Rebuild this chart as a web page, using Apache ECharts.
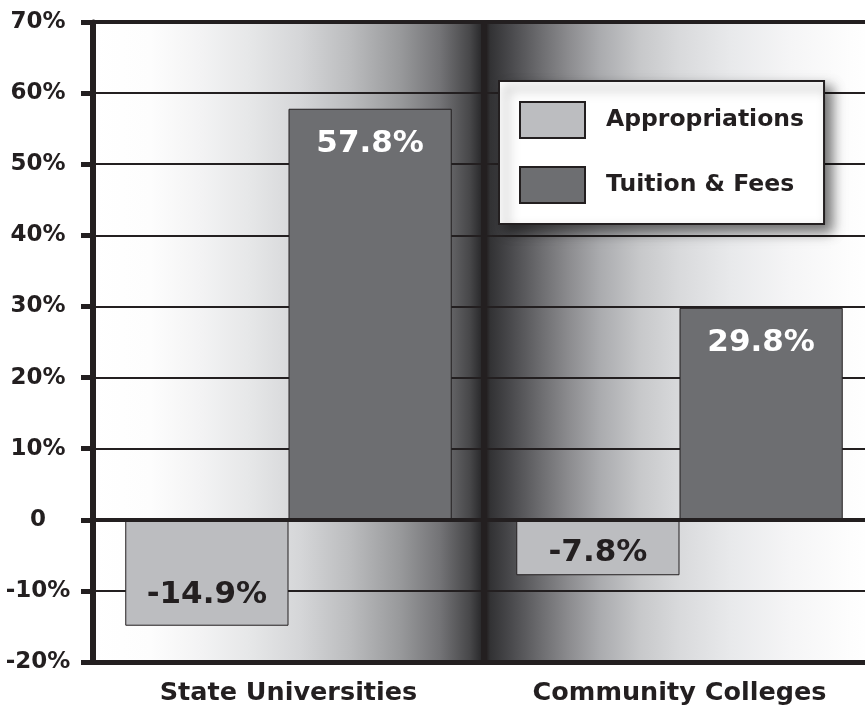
<!DOCTYPE html>
<html>
<head>
<meta charset="utf-8">
<script src="https://cdn.jsdelivr.net/npm/echarts@6/dist/echarts.min.js"></script>
<style>
  html, body { margin: 0; padding: 0; background: #ffffff; overflow: hidden; }
  #chart { width: 900px; height: 705px; }
</style>
</head>
<body>
<div id="chart"></div>
<script>
// Percent change by sector
const categories = ['State Universities', 'Community Colleges'];
const appropriations = [-14.9, -7.8];
const tuitionFees = [57.8, 29.8];
const seriesNames = ['Appropriations', 'Tuition & Fees'];
const yTicks = { min: -20, max: 70, step: 10 };

const INK = '#231f20';
const FONT = '"DejaVu Sans", Verdana, sans-serif';

// Shaded backdrop: white at the edges, darkening into the divider between the two groups
const backdrop = {
  type: 'linear', x: 0, y: 0, x2: 1, y2: 0,
  colorStops: [
    { offset: 0.000, color: '#ffffff' },
    { offset: 0.073, color: '#fdfdfd' },
    { offset: 0.137, color: '#f3f3f4' },
    { offset: 0.201, color: '#e6e7e8' },
    { offset: 0.265, color: '#d5d6d8' },
    { offset: 0.329, color: '#bbbcbe' },
    { offset: 0.393, color: '#98999b' },
    { offset: 0.444, color: '#737376' },
    { offset: 0.482, color: '#474749' },
    { offset: 0.495, color: '#2d2d2f' },
    { offset: 0.503, color: '#231f20' },
    { offset: 0.508, color: '#323234' },
    { offset: 0.533, color: '#48484b' },
    { offset: 0.572, color: '#6c6c6f' },
    { offset: 0.610, color: '#8d8d90' },
    { offset: 0.648, color: '#aaabae' },
    { offset: 0.699, color: '#c7c8ca' },
    { offset: 0.751, color: '#d9dadc' },
    { offset: 0.815, color: '#e8e9eb' },
    { offset: 0.891, color: '#f5f5f6' },
    { offset: 0.968, color: '#fdfdfd' },
    { offset: 1.000, color: '#ffffff' }
  ]
};

const valueLabel = (color) => ({
  show: true,
  color: color,
  fontFamily: FONT,
  fontWeight: 'bold',
  fontSize: 31,
  formatter: (p) => p.value.toFixed(1) + '%'
});

const chart = echarts.init(document.getElementById('chart'), null, { renderer: 'canvas' });

chart.setOption({
  animation: false,
  backgroundColor: '#ffffff',
  grid: {
    left: 93, top: 22, width: 782, height: 640,
    show: true,
    backgroundColor: backdrop,
    borderWidth: 0,
    containLabel: false,
    outerBoundsMode: 'none'
  },
  legend: {
    orient: 'vertical',
    left: 499, top: 81,
    padding: [20, 20, 20, 20],
    itemWidth: 65, itemHeight: 36, itemGap: 27,
    icon: 'rect',
    backgroundColor: '#ffffff',
    borderColor: INK, borderWidth: 2,
    shadowBlur: 12, shadowColor: 'rgba(0,0,0,0.55)',
    shadowOffsetX: 7, shadowOffsetY: 7,
    itemStyle: { borderColor: INK, borderWidth: 2 },
    textStyle: {
      color: INK, fontFamily: FONT, fontWeight: 'bold', fontSize: 23.5,
      padding: [0, 0, 0, 16]
    },
    data: seriesNames,
    selectedMode: false
  },
  xAxis: {
    type: 'category',
    data: categories,
    boundaryGap: true,
    axisLine: { show: true, onZero: false, lineStyle: { color: INK, width: 5 } },
    axisTick: { show: false },
    splitLine: { show: true, lineStyle: { color: INK, width: 6 } },
    axisLabel: {
      color: INK, fontFamily: FONT, fontWeight: 'bold', fontSize: 25.5, margin: 18
    }
  },
  yAxis: {
    type: 'value',
    min: yTicks.min, max: yTicks.max, interval: yTicks.step,
    axisLine: { show: true, lineStyle: { color: INK, width: 5 } },
    axisTick: { show: true, length: 12, lineStyle: { color: INK, width: 5 } },
    splitLine: { show: true, lineStyle: { color: INK, width: 2 } },
    axisLabel: {
      color: INK, fontFamily: FONT, fontWeight: 'bold', fontSize: 23,
      align: 'center', margin: 55,
      formatter: (v) => (v === 0 ? '0' : v + '%')
    }
  },
  series: [
    {
      name: seriesNames[0],
      type: 'bar',
      barGap: '0%',
      barCategoryGap: '16.5%',
      itemStyle: { color: '#bcbdc0', borderColor: INK, borderWidth: 1 },
      label: Object.assign(valueLabel(INK), { position: 'insideBottom' }),
      data: [
        { value: appropriations[0], label: { distance: 15 } },
        { value: appropriations[1], label: { distance: 7 } }
      ],
      markLine: {
        silent: true,
        symbol: ['none', 'none'],
        label: { show: false },
        lineStyle: { color: INK, width: 4, type: 'solid' },
        data: [{ yAxis: 0 }, { yAxis: yTicks.max }]
      }
    },
    {
      name: seriesNames[1],
      type: 'bar',
      barGap: '0%',
      barCategoryGap: '16.5%',
      itemStyle: { color: '#6d6e71', borderColor: INK, borderWidth: 1 },
      label: Object.assign(valueLabel('#ffffff'), { position: 'insideTop', distance: 20 }),
      data: tuitionFees
    }
  ]
});
</script>
</body>
</html>
